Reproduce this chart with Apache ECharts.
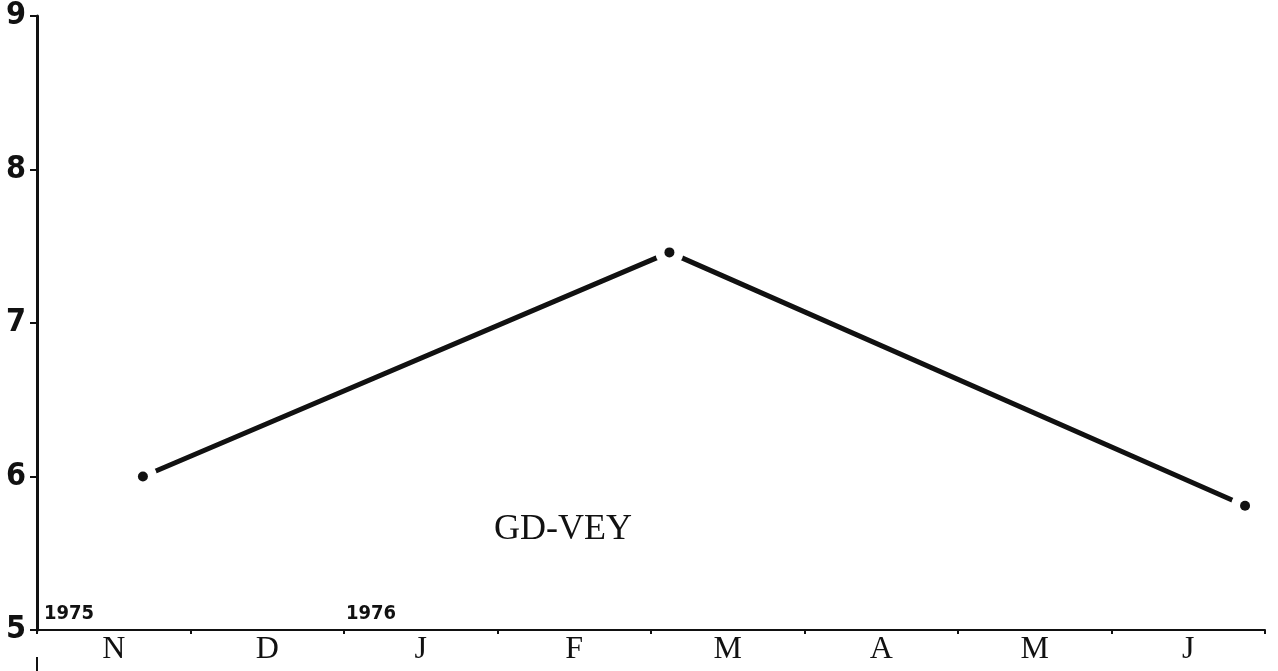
<!DOCTYPE html>
<html>
<head>
<meta charset="utf-8">
<script src="https://cdn.jsdelivr.net/npm/echarts@6/dist/echarts.min.js"></script>
<style>
  html, body { margin: 0; padding: 0; background: #fff; }
  #container { width: 1278px; height: 671px; }
</style>
</head>
<body>
<div id="container"></div>
<script>
// months on the x axis
var months = ['N', 'D', 'J', 'F', 'M', 'A', 'M', 'J'];
// position of each point in months from the start of N
var pointMonth = [0.69, 4.12, 7.87];
// values
var pointValue = [6.0, 7.46, 5.81];
var yTicks = [5, 6, 7, 8, 9];

var ink = '#111';
var pts = [];
for (var i = 0; i < pointMonth.length; i++) {
  pts.push([pointMonth[i], pointValue[i]]);
}

var chart = echarts.init(document.getElementById('container'));
var option = {
  backgroundColor: '#fff',
  animation: false,
  grid: { left: 37, right: 13, top: 15, bottom: 41 },
  xAxis: [
    {
      type: 'category',
      data: months,
      boundaryGap: true,
      axisLine: { lineStyle: { color: ink, width: 2 } },
      axisTick: { show: true, length: 4, lineStyle: { color: ink, width: 2 } },
      axisLabel: {
        color: ink, fontFamily: 'Liberation Serif', fontSize: 32, margin: 4
      },
      splitLine: { show: false }
    },
    {
      type: 'value', min: 0, max: 8, show: false
    }
  ],
  yAxis: {
    type: 'value',
    min: yTicks[0],
    max: yTicks[yTicks.length - 1],
    interval: 1,
    axisLine: { show: true, lineStyle: { color: ink, width: 3 } },
    axisTick: { show: true, inside: false, length: 7, lineStyle: { color: ink, width: 2 } },
    axisLabel: {
      color: ink, fontFamily: 'DejaVu Sans Condensed', fontWeight: 'bold',
      fontSize: 32, margin: 11
    },
    splitLine: { show: false }
  },
  series: [
    {
      type: 'line',
      xAxisIndex: 1,
      data: pts,
      symbol: 'none',
      lineStyle: { color: ink, width: 5 },
      z: 2
    },
    {
      // white gap around each dot
      type: 'scatter',
      xAxisIndex: 1,
      data: pts,
      symbolSize: 28,
      itemStyle: { color: '#fff', opacity: 1 },
      emphasis: { disabled: true },
      z: 3
    },
    {
      type: 'scatter',
      xAxisIndex: 1,
      data: pts,
      symbolSize: 10,
      itemStyle: { color: ink, opacity: 1 },
      emphasis: { disabled: true },
      z: 4
    }
  ],
  graphic: [
    {
      type: 'text', left: 44, top: 604,
      style: { text: '1975', fill: ink, font: 'bold 20px "DejaVu Sans Condensed"' }
    },
    {
      type: 'text', left: 346, top: 604,
      style: { text: '1976', fill: ink, font: 'bold 20px "DejaVu Sans Condensed"' }
    },
    {
      type: 'text', left: 494, top: 512,
      style: { text: 'GD-VEY', fill: ink, font: '36px "Liberation Serif"' }
    },
    {
      type: 'line',
      shape: { x1: 37, y1: 657, x2: 37, y2: 671 },
      style: { stroke: ink, lineWidth: 2 }
    }
  ]
};
chart.setOption(option);
window.addEventListener('resize', function () { chart.resize(); });
</script>
</body>
</html>
